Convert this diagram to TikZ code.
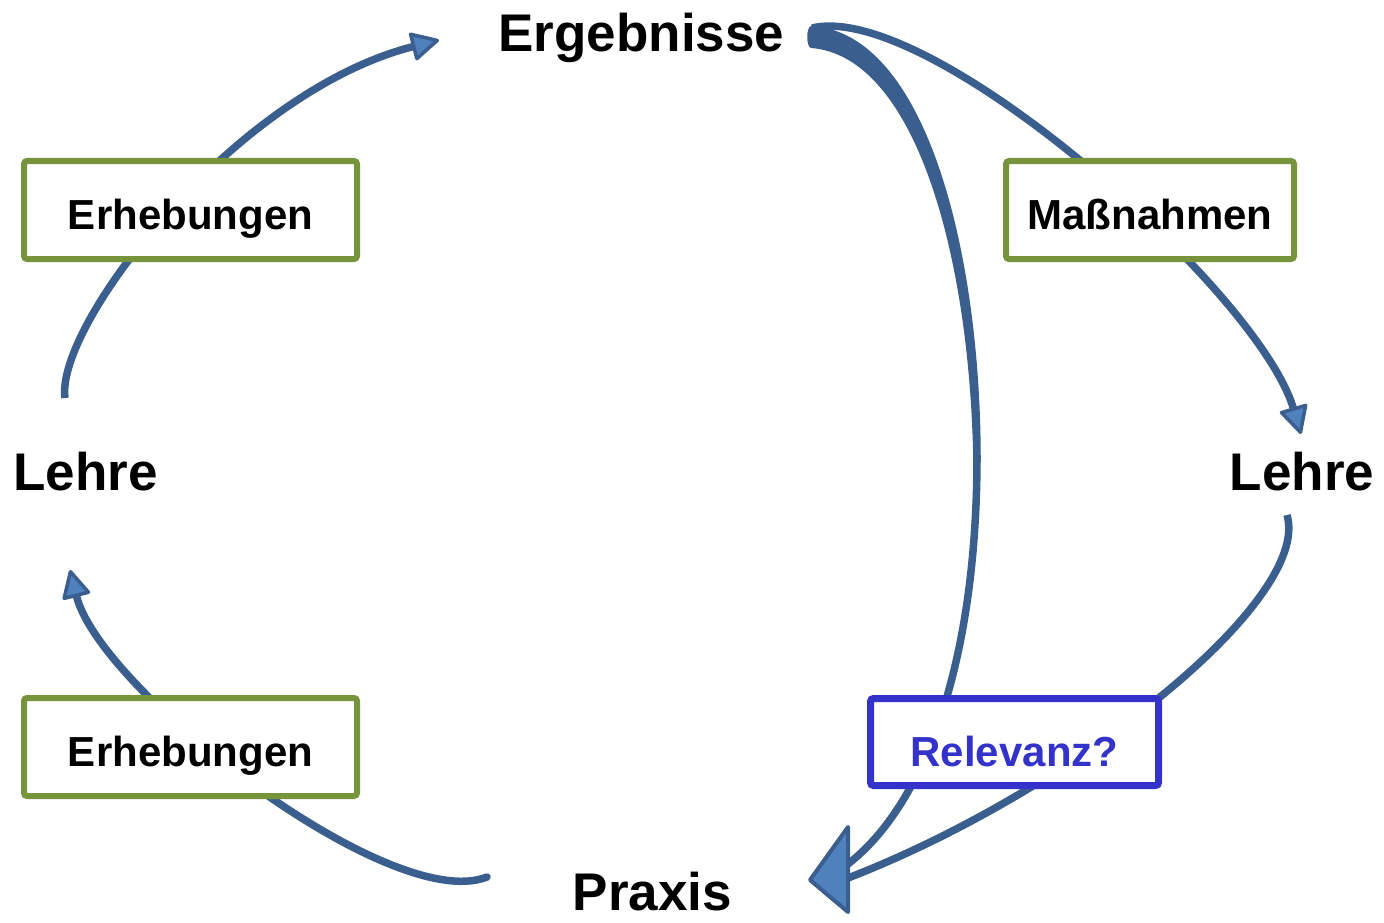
\documentclass[tikz,border=0pt]{standalone}
\usepackage{fontspec}
\setmainfont{Liberation Sans}
\usetikzlibrary{arrows.meta}
\definecolor{arrowdark}{HTML}{3A5F8E}
\definecolor{arrowfill}{HTML}{4F81BD}
\definecolor{boxgreen}{HTML}{77933C}
\definecolor{boxblue}{HTML}{3333CC}
\tikzset{
  bigtext/.style={font=\fontsize{53}{60}\selectfont\bfseries, inner sep=0pt, anchor=base},
  greenbox/.style={draw=boxgreen, line width=6pt, fill=white, rounded corners=3pt,
    minimum width=333pt, minimum height=98pt, font=\fontsize{42}{48}\selectfont\bfseries,
    text height=38pt, text depth=0pt, inner sep=0pt},
  bluebox/.style={draw=boxblue, line width=7pt, fill=white, rounded corners=3pt,
    minimum width=288pt, minimum height=87pt, font=\fontsize{42}{48}\selectfont\bfseries,
    text=boxblue, text height=48pt, text depth=0pt, inner sep=0pt},
  curvearrow/.style={draw=arrowdark, line width=7.5pt,
    -{Triangle[length=30pt,width=30pt,fill=arrowfill,line width=3.5pt,round]}},
  curveline/.style={draw=arrowdark, line width=7.5pt},
  bighead/.style={draw=arrowdark, fill=arrowfill, line width=4pt, line join=round},
}
\begin{document}
\begin{tikzpicture}[x=1pt,y=-1pt]
\useasboundingbox (0,0) rectangle (1384,923);

% labels
\node[bigtext] (erg) at (641.5,52) {Ergebnisse};
\node[bigtext] (lehreL) at (85.5,490) {Lehre};
\node[bigtext] (lehreR) at (1302,490) {Lehre};
\node[bigtext] (praxis) at (652.5,910) {Praxis};

% connector ends
\coordinate (t1) at (65,398);
\coordinate (h1) at (439,40);
\coordinate (t2) at (487,877);
\coordinate (h2) at (70,570);
\coordinate (t3) at (812,28);
\coordinate (h3) at (1301,434);
\coordinate (t4) at (1287,515);
\coordinate (e4) at (848,878);
\coordinate (m5) at (977,455);
\coordinate (e5) at (848,864);
\coordinate (tip) at (810,880);

% curved arrows
\draw[curvearrow] (t1) .. controls (55,325) and (235,92) .. (h1);
\draw[curvearrow, line cap=round] (t2) .. controls (390,915) and (100,690) .. (h2);
\draw[curvearrow] (t3) .. controls (930,0) and (1258,290) .. (h3);
\draw[curveline] (t4) .. controls (1312,600) and (1075,790) .. (e4);

% big arrow from Ergebnisse to Praxis
\fill[arrowdark] (811,26) .. controls (925,32) and (981,250) .. (980.75,462)
  -- (973.25,462) .. controls (970,255) and (915,56) .. (811,48)
  .. controls (806,47) and (806,27) .. (811,26) -- cycle;
\draw[curveline] (m5) .. controls (977.2,650) and (930,800) .. (e5);
\draw[bighead] (848,827) -- (tip) -- (848,912) -- cycle;

% boxes
\node[greenbox] (erh1) at (190.5,210) {Erhebungen};
\node[greenbox] (erh2) at (190.5,747) {Erhebungen};
\node[greenbox, minimum width=288pt] (mass) at (1150,210) {Maßnahmen};
\node[bluebox] (rel) at (1014.5,742) {Relevanz?};
\end{tikzpicture}
\end{document}
